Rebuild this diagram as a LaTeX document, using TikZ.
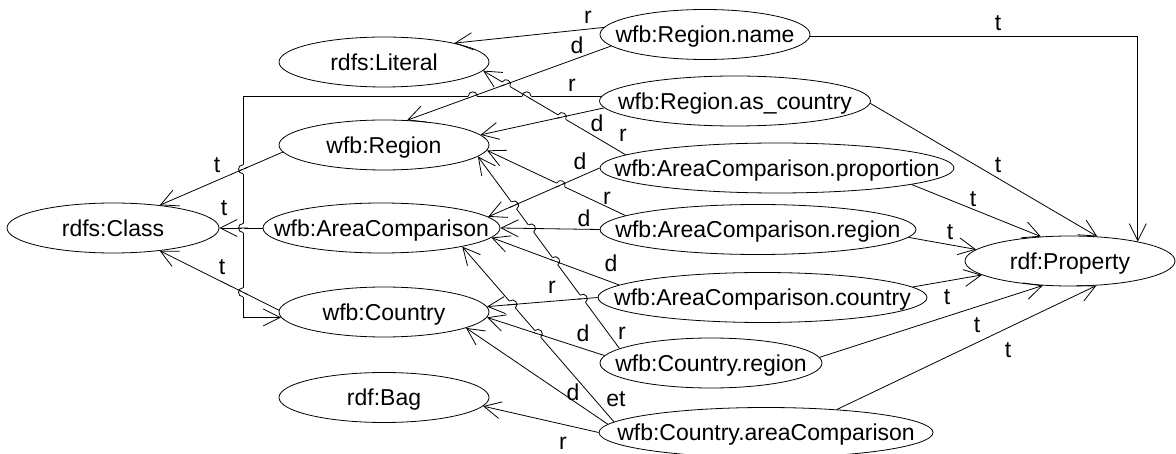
\documentclass[tikz,border=0pt]{standalone}
\usepackage{fontspec}
\setmainfont{Liberation Sans}
\usetikzlibrary{shapes.geometric,arrows.meta,calc}
\newcommand\hopover[4]{%
  \coordinate (hP) at (intersection of #1--#2 and #3--#4);
  \coordinate (hQ) at ($(hP)!4.5pt!(#1)$);
  \coordinate (hR) at ($(hP)!4.5pt!(#2)$);
  \draw[white,line width=2.4pt] (hQ) -- (hR);
  \draw[line width=0.8pt] ($(hP)!5pt!(#3)$) -- ($(hP)!5pt!(#4)$);
  \draw[line width=0.8pt] (hQ) .. controls ($(hQ)!6pt!90:(hP)$) and ($(hR)!6pt!-90:(hP)$) .. (hR);
}
\begin{document}
\begin{tikzpicture}[x=1pt,y=-1pt,
  ell/.style={ellipse,draw,line width=0.8pt,inner sep=0pt,minimum height=50pt,
    text height=16.5pt,text depth=0pt,font=\fontsize{23}{27}\selectfont},
  arr/.style={line width=0.8pt,-{Straight Barb[length=17pt,width=17pt]}},
  lab/.style={inner sep=0pt,font=\fontsize{23}{27}\selectfont}]
\fill[white] (0,0) rectangle (1176,454);
\useasboundingbox (0,0) rectangle (1176,454);
\clip (0,0) rectangle (1176,454);

% nodes
\node[ell,minimum width=210pt] (Lit) at (384,62) {\makebox[0pt]{rdfs:Literal}};
\node[ell,minimum width=210pt] (Reg) at (384,145) {\makebox[0pt]{wfb:Region}};
\node[ell,minimum width=212pt] (Cls) at (113,228) {\makebox[0pt]{rdfs:Class}};
\node[ell,minimum width=237pt] (AC) at (381.5,228) {\makebox[0pt]{wfb:AreaComparison}};
\node[ell,minimum width=210pt] (Cty) at (384,312) {\makebox[0pt]{wfb:Country}};
\node[ell,minimum width=210pt] (Bag) at (384,397.5) {\makebox[0pt]{rdf:Bag}};
\node[ell,minimum width=210pt] (RN) at (705,34.5) {\makebox[0pt]{wfb:Region.name}};
\node[ell,minimum width=271pt] (RA) at (735,101) {\makebox[0pt]{wfb:Region.as\_country}};
\node[ell,minimum width=354pt] (ACP) at (777,168) {\makebox[0pt]{wfb:AreaComparison.proportion}};
\node[ell,minimum width=316pt] (ACR) at (758,229.5) {\makebox[0pt]{wfb:AreaComparison.region}};
\node[ell,minimum width=329pt] (ACC) at (762.5,297.5) {\makebox[0pt]{wfb:AreaComparison.country}};
\node[ell,minimum width=222pt] (CR) at (711,363) {\makebox[0pt]{wfb:Country.region}};
\node[ell,minimum width=334pt] (CAC) at (766,432.5) {\makebox[0pt]{wfb:Country.areaComparison}};
\node[ell,minimum width=210pt] (Prop) at (1070,261) {\makebox[0pt]{rdf:Property}};

\coordinate (k1) at (243,97);

% edges
\draw[arr] (RN.176) -- (Lit.15);
\draw[arr] (RN.187) -- (Reg.47);
\draw[arr] (RN.-1) -| (Prop.16);
\draw[arr] (RA.178) -- (RA.178 -| k1) |- (Cty.183);
\draw[arr] (RA.183) -- (Reg.6);
\draw[arr] (RA.-1) -- (Prop.42);
\draw[arr] (ACP.175) -- (Lit.-5);
\draw[arr] (ACP.180) -- (AC.6);
\draw[arr] (ACP.-7) -- (Prop.140);
\draw[arr] (ACR.174) -- (Reg.-3);
\draw[arr] (ACR.180) -- (AC.0);
\draw[arr] (ACR.-3) -- (Prop.173);
\draw[arr] (ACC.180) -- (Cty.3);
\draw[arr] (ACC.175) -- (AC.-5);
\draw[arr] (ACC.4) -- (Prop.189);
\draw[arr] (CR.171) -- (Reg.-7);
\draw[arr] (CR.176) -- (Cty.-3);
\draw[arr] (CR.3) -- (Prop.222);
\draw[arr] (CAC.180) -- (Bag.-5);
\draw[arr] (CAC.177) -- (Cty.-11);
\draw[arr] (CAC.176) -- (AC.-13);
\draw[arr] (CAC.18) -- (Prop.-43);
\draw[arr] (Reg.184) -- (Cls.26);
\draw[arr] (AC.180) -- (Cls.0);
\draw[arr] (Cty.179) -- (Cls.-26);

% end points used for line hops
\coordinate (hTop) at (RA.178 -| k1);
\coordinate (hRA) at (RA.178);
\coordinate (hBot) at (Cty.183 -| k1);
\coordinate (eRNa) at (RN.187);  \coordinate (eRNb) at (Reg.47);
\coordinate (eRAa) at (RA.183);  \coordinate (eRAb) at (Reg.6);
\coordinate (eP5a) at (Lit.-5);  \coordinate (eP5b) at (ACP.175);
\coordinate (eP6a) at (AC.6);    \coordinate (eP6b) at (ACP.180);
\coordinate (eR7a) at (Reg.-3);  \coordinate (eR7b) at (ACR.174);
\coordinate (eR8a) at (AC.0);    \coordinate (eR8b) at (ACR.180);
\coordinate (eC9a) at (Cty.3);   \coordinate (eC9b) at (ACC.180);
\coordinate (eC10a) at (AC.-5);  \coordinate (eC10b) at (ACC.175);
\coordinate (e11a) at (Reg.-7);  \coordinate (e11b) at (CR.171);
\coordinate (e12a) at (Cty.-3);  \coordinate (e12b) at (CR.176);
\coordinate (e15a) at (AC.-13);  \coordinate (e15b) at (CAC.176);
\coordinate (eT1a) at (Cls.26);  \coordinate (eT1b) at (Reg.184);
\coordinate (eT2a) at (Cls.0);   \coordinate (eT2b) at (AC.180);
\coordinate (eT3a) at (Cls.-26); \coordinate (eT3b) at (Cty.179);

\hopover{hTop}{hRA}{eRNa}{eRNb}
\hopover{hTop}{hRA}{eP5a}{eP5b}
\hopover{eP5a}{eP5b}{eRNa}{eRNb}
\hopover{eP5a}{eP5b}{eRAa}{eRAb}
\hopover{eR7a}{eR7b}{eP6a}{eP6b}
\hopover{e11a}{e11b}{eP6a}{eP6b}
\hopover{e11a}{e11b}{eR8a}{eR8b}
\hopover{e11a}{e11b}{eC10a}{eC10b}
\hopover{e11a}{e11b}{eC9a}{eC9b}
\hopover{e15a}{e15b}{eC9a}{eC9b}
\hopover{e15a}{e15b}{e12a}{e12b}
\hopover{hBot}{hTop}{eT1a}{eT1b}
\hopover{hBot}{hTop}{eT2a}{eT2b}
\hopover{hBot}{hTop}{eT3a}{eT3b}

% labels
\node[lab] (l1) at (588,17) {r};
\node[lab] (l2) at (577,45) {d};
\node[lab] (l3) at (998,23) {t};
\node[lab] (l4) at (572,85) {r};
\node[lab] (l5) at (597,123) {d};
\node[lab] (l6) at (998,165) {t};
\node[lab] (l7) at (623,135) {r};
\node[lab] (l8) at (580,161) {d};
\node[lab] (l9) at (973,199) {t};
\node[lab] (l10) at (607,198) {r};
\node[lab] (l11) at (584,218) {d};
\node[lab] (l12) at (950,232) {t};
\node[lab] (l13) at (552,287) {r};
\node[lab] (l14) at (611,263) {d};
\node[lab] (l15) at (947,297) {t};
\node[lab] (l16) at (622,333) {r};
\node[lab] (l17) at (583,333) {d};
\node[lab] (l18) at (977,325) {t};
\node[lab] (l19) at (563,443) {r};
\node[lab] (l20) at (573,392) {d};
\node[lab] (l21) at (616,399) {et};
\node[lab] (l22) at (1008,350) {t};
\node[lab] (l23) at (217,165) {t};
\node[lab] (l24) at (224,208) {t};
\node[lab] (l25) at (222,267) {t};
\end{tikzpicture}
\end{document}
